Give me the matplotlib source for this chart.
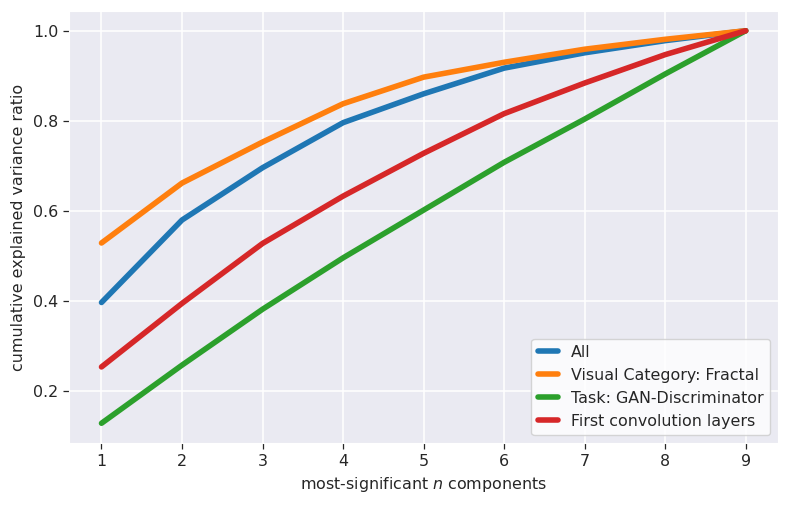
import matplotlib
matplotlib.use("Agg")
import matplotlib.pyplot as plt
import seaborn as sns

n_components = [1, 2, 3, 4, 5, 6, 7, 8, 9]
all_vals = [0.397, 0.580, 0.696, 0.796, 0.860, 0.917, 0.951, 0.978, 1.0]
fractal_vals = [0.529, 0.662, 0.753, 0.838, 0.897, 0.930, 0.959, 0.981, 1.0]
gan_disc_vals = [0.129, 0.258, 0.382, 0.496, 0.602, 0.708, 0.804, 0.904, 1.0]
first_conv_vals = [0.254, 0.395, 0.528, 0.633, 0.728, 0.816, 0.884, 0.947, 1.0]

series = [
    ("All", all_vals),
    ("Visual Category: Fractal", fractal_vals),
    ("Task: GAN-Discriminator", gan_disc_vals),
    ("First convolution layers", first_conv_vals),
]
colors = ["#1f77b4", "#ff7f0e", "#2ca02c", "#d62728"]

sns.set_style("darkgrid")
plt.rcParams["font.family"] = ["DejaVu Sans"]
fs = 11.4
plt.rcParams.update({
    "xtick.bottom": True, "ytick.left": True,
    "xtick.major.size": 4, "ytick.major.size": 4,
    "xtick.major.width": 0.9, "ytick.major.width": 0.9,
    "xtick.major.pad": 4, "ytick.major.pad": 4,
    "xtick.color": ".15", "ytick.color": ".15",
    "grid.linewidth": 1.1,
})

fig = plt.figure(figsize=(7.9, 5.05), dpi=100)
ax = fig.add_axes([0.0877, 0.123, 0.897, 0.855])
for (label, vals), c in zip(series, colors):
    ax.plot(n_components, vals, color=c, lw=4, label=label, solid_capstyle="round")

ax.set_xticks(n_components)
ax.set_yticks([0.2, 0.4, 0.6, 0.8, 1.0])
ax.tick_params(labelsize=fs)
ax.set_xlabel("most-significant $n$ components", fontsize=fs, color=".15", labelpad=4)
ax.set_ylabel("cumulative explained variance ratio", fontsize=fs, color=".15", labelpad=5)
leg = ax.legend(loc="lower right", fontsize=fs, handlelength=1.3,
                facecolor="white", edgecolor="0.8", framealpha=0.8)
fig.savefig("out.png", dpi=100)
